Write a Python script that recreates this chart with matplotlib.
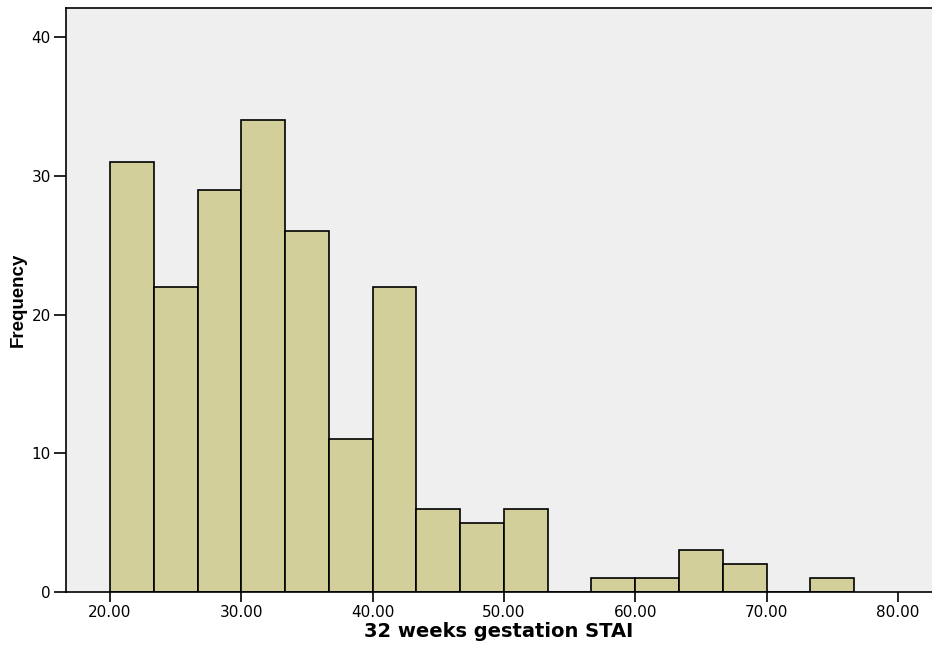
import numpy as np
import matplotlib.pyplot as plt

plt.rcParams['font.family'] = ['DejaVu Sans']

# histogram data
bin_start = 20.0
bin_width = 10.0 / 3.0
counts = [31, 22, 29, 34, 26, 11, 22, 6, 5, 6, 0, 1, 1, 3, 2, 0, 1]
x_ticks = [20, 30, 40, 50, 60, 70, 80]
y_ticks = [0, 10, 20, 30, 40]

edges = bin_start + bin_width * np.arange(len(counts))

fig = plt.figure(figsize=(9.32, 6.51), dpi=100)
ax = fig.add_axes([0.0708, 0.0906, 0.9292, 0.8971])
ax.set_facecolor('#efefef')

ax.bar(edges, counts, width=bin_width, align='edge',
       color='#d3cf9a', edgecolor='black', linewidth=1.2, zorder=2)

ax.set_xlim(16.65, 82.6)
ax.set_ylim(0, 42.1)
ax.set_xticks(x_ticks)
ax.set_xticklabels([f'{v:.2f}' for v in x_ticks])
ax.set_yticks(y_ticks)
ax.tick_params(axis='both', labelsize=11, width=1.2, length=7, direction='out', colors='black')
ax.tick_params(axis='x', pad=2.5)
ax.tick_params(axis='y', length=9, pad=2)

for side in ['left', 'bottom', 'top']:
    ax.spines[side].set_linewidth(1.2)
ax.spines['right'].set_visible(False)

ax.set_xlabel('32 weeks gestation STAI', fontsize=14, fontweight='bold', labelpad=1.5)
ax.set_ylabel('Frequency', fontsize=13.5, fontweight='bold', labelpad=3,
              family=['Liberation Sans', 'DejaVu Sans'])

plt.savefig('out.png', dpi=100)
plt.close()
